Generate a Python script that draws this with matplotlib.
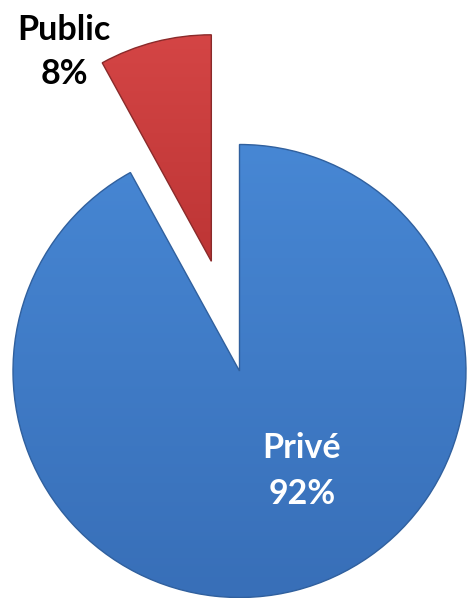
import matplotlib.pyplot as plt
import numpy as np
from matplotlib.colors import LinearSegmentedColormap

# data
labels = ['Privé', 'Public']
values = [92, 8]
explode = [0, 0.5]

fig = plt.figure(figsize=(4.67, 5.98), dpi=100)
ax = fig.add_axes([0, 0, 1, 1])

r_px = 226.5
cx, cy = 239.5, 598 - 371
xlim = (-cx / r_px, (467 - cx) / r_px)
ylim = (-cy / r_px, (598 - cy) / r_px)

wedges, _ = ax.pie(values, explode=explode, startangle=90, counterclock=False,
                   colors=['#3f7cc8', '#c93b3b'], radius=1.0,
                   wedgeprops=dict(edgecolor='none'))

# soft gradient shading inside each wedge
grads = [('#4787d4', '#386fb8'), ('#d44545', '#bd3535')]
rims = ['#30609e', '#8a2a2a']
for w, (c1, c2), rim in zip(wedges, grads, rims):
    cmap = LinearSegmentedColormap.from_list('g', [c1, c2])
    bb = w.get_path().get_extents(w.get_transform() - ax.transData)
    g = np.linspace(0, 1, 256).reshape(-1, 1)
    im = ax.imshow(g, cmap=cmap, extent=[bb.x0, bb.x1, bb.y0, bb.y1],
                   origin='upper', aspect='auto', zorder=w.get_zorder() + 0.1)
    im.set_clip_path(w)
    w.set_edgecolor(rim)
    w.set_linewidth(1.0)
    w.set_zorder(im.get_zorder() + 0.1)
    w.set_facecolor('none')

ax.set_xlim(*xlim)
ax.set_ylim(*ylim)
ax.set_aspect('auto')
ax.axis('off')

font = dict(family=['Lato', 'DejaVu Sans'], fontweight='bold', fontsize=24.5,
            ha='center', va='center', linespacing=1.5)
ax.text((64 - cx) / r_px, (598 - 52 - cy) / r_px, labels[1] + '\n' + f'{values[1]}%',
        color='black', **font)
ax.text((302 - cx) / r_px, (598 - 471 - cy) / r_px, labels[0] + '\n' + f'{values[0]}%',
        color='white', zorder=10, **font)

fig.savefig('out.png', dpi=100)
